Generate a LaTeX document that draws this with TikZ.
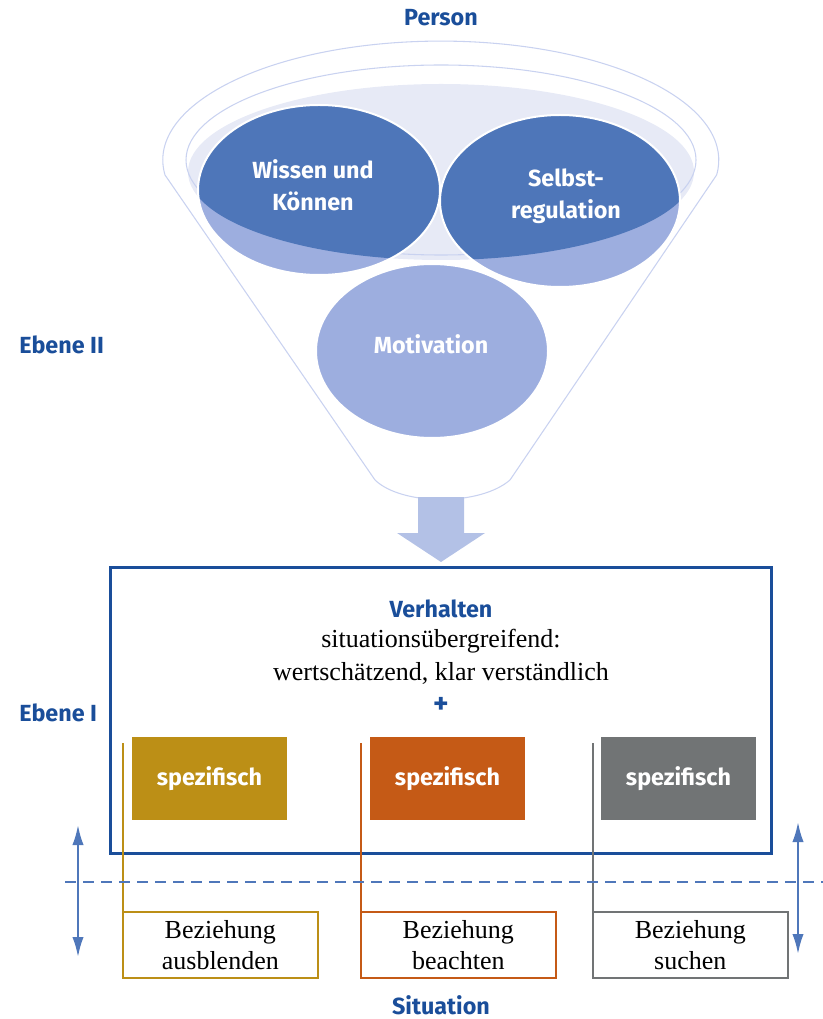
\documentclass[tikz,border=0pt]{standalone}
\usepackage{fontspec}
\setmainfont{Liberation Serif}
\newfontfamily\labelfont{Fira Sans}
\usetikzlibrary{arrows.meta, positioning}
\definecolor{funnelline}{HTML}{C9D2F0}
\definecolor{surface}{HTML}{E7EAF6}
\definecolor{darkcircle}{HTML}{4E76B9}
\definecolor{lightcircle}{HTML}{9DAEDF}
\definecolor{blockarrow}{HTML}{B3C1E6}
\definecolor{boxblue}{HTML}{1A4E9A}
\definecolor{guideblue}{HTML}{4F77BA}
\definecolor{gold}{HTML}{BC8F16}
\definecolor{orange}{HTML}{C55A16}
\definecolor{gray}{HTML}{717475}

\begin{document}
\begin{tikzpicture}[x=0.75pt, y=-0.75pt,
	heading/.style={font=\labelfont\bfseries\fontsize{17.5}{20}\selectfont, text=boxblue, inner sep=0pt},
	circletext/.style={font=\labelfont\bfseries\fontsize{17.5}{24}\selectfont, text=white, align=center, inner sep=0pt},
	bodytext/.style={font=\fontsize{19.5}{24}\selectfont, inner sep=0pt},
	spezbox/.style={fill=#1, minimum width=116.25pt, minimum height=62.25pt, inner sep=0pt, outer sep=0pt,
		font=\labelfont\bfseries\fontsize{17.5}{20}\selectfont, text=white},
	bezbox/.style={draw=#1, line width=1.5pt, fill=white, minimum width=146pt, minimum height=49.5pt, inner sep=0pt,
		outer sep=0pt, align=center, font=\fontsize{19.5}{23.5}\selectfont},
	funnel/.style={draw=funnelline, line width=0.8pt},
	updown/.style={guideblue, line width=1.6pt, {Latex[length=15pt, width=8.5pt]}-{Latex[length=15pt, width=8.5pt]}}]
	\useasboundingbox (0,0) rectangle (823,1019);

	% funnel
	\draw[funnel] (165,175) arc[start angle=172.8, end angle=367.2, x radius=278, y radius=119]
		-- (510,480) .. controls (480,506) and (402,506) .. (375,480) -- cycle;
	\fill[surface] (441,172) ellipse [x radius=253, y radius=88];
	\draw[funnel] (441,160) ellipse [x radius=255, y radius=95];

	% circles
	\foreach \cx/\cy/\rx/\ry in {319/190/121/85, 560/201/120/86, 432/351/116/87}{
		\fill[lightcircle] (\cx,\cy) ellipse [x radius=\rx, y radius=\ry];
	}
	\begin{scope}
		\clip (441,172) ellipse [x radius=253, y radius=88];
		\fill[darkcircle] (319,190) ellipse [x radius=121, y radius=85];
		\fill[darkcircle] (560,201) ellipse [x radius=120, y radius=86];
	\end{scope}
	\foreach \cx/\cy/\rx/\ry in {319/190/121/85, 560/201/120/86, 432/351/116/87}{
		\draw[white, line width=1.5pt] (\cx,\cy) ellipse [x radius=\rx, y radius=\ry];
	}
	\node[circletext] (wissen) at (313,185) {Wissen und\\Können};
	\node[circletext] (selbst) at (566,196) {Selbst-\\regulation};
	\node[circletext] (motivation) at (431,344) {Motivation};

	% arrow into the box
	\fill[blockarrow] (418,497) -- (464,497) -- (464,533) -- (485,533) -- (441,562) -- (397,533) -- (418,533) -- cycle;

	% labels:
	\node[heading] (person) at (441,18) {Person};
	\node[heading, anchor=west] (ebene2) at (19,345) {Ebene II};
	\node[heading, anchor=west] (ebene1) at (19,713) {Ebene I};
	\node[heading] (situation) at (441,1005) {Situation};

	% Verhalten box
	\draw[boxblue, line width=2.25pt] (110,567) rectangle (771,853);
	\node[heading] (verhalten) at (441,609) {Verhalten};
	\node[bodytext] (uebergreifend) at (441,641) {situationsübergreifend:};
	\node[bodytext] (wert) at (441,673) {wertschätzend, klar verständlich};
	\node[heading, font=\labelfont\bfseries\fontsize{22}{22}\selectfont] (plus) at (441,705) {+};

	% three situations
	\foreach \i/\xl/\xb/\col/\txt in {1/123/132/gold/ausblenden, 2/361/370/orange/beachten, 3/593/601/gray/suchen}{
		\node[spezbox=\col, anchor=north west] (spez\i) at (\xb,737) {spezifisch};
		\node[bezbox=\col, anchor=north west] (bez\i) at (\xl,912) {Beziehung\\\txt};
		\coordinate (top\i) at (\xl,743);
		\draw[\col, line width=1.5pt] (top\i) -- (bez\i.south west);
	}

	% border between the levels
	\coordinate (dashl) at (65,882);
	\coordinate (dashr) at (823,882);
	\draw[guideblue, line width=1.5pt, dash pattern=on 8.5pt off 5pt] (dashl) -- (dashr);
	\coordinate (lefttop) at (78,825);
	\coordinate (leftbot) at (78,957);
	\coordinate (righttop) at (798,822);
	\coordinate (rightbot) at (798,954);
	\draw[updown] (lefttop) -- (leftbot);
	\draw[updown] (righttop) -- (rightbot);
\end{tikzpicture}
\end{document}
